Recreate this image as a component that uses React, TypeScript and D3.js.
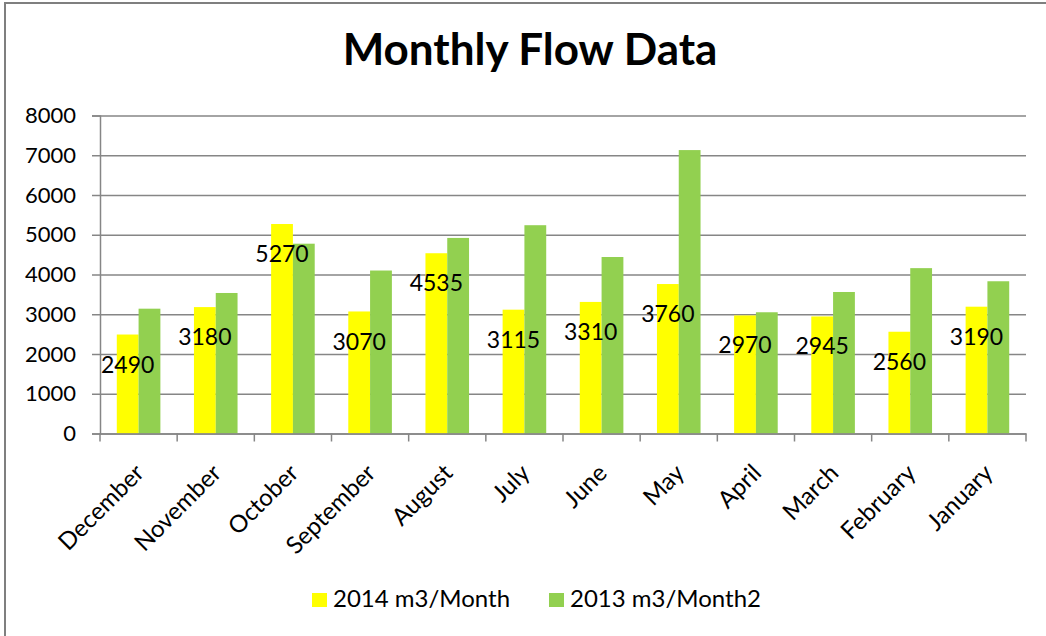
import React, { useEffect, useRef } from "react";
import * as d3 from "d3";

const months = [
  "December", "November", "October", "September", "August", "July",
  "June", "May", "April", "March", "February", "January",
];
const flow2014 = [2490, 3180, 5270, 3070, 4535, 3115, 3310, 3760, 2970, 2945, 2560, 3190];
const flow2013 = [3140, 3535, 4775, 4100, 4920, 5240, 4440, 7130, 3050, 3560, 4160, 3830];
const seriesNames = ["2014 m3/Month", "2013 m3/Month2"];
const yTicks = [0, 1000, 2000, 3000, 4000, 5000, 6000, 7000, 8000];

const W = 1046;
const H = 636;
const FONT = "Lato, 'Open Sans', sans-serif";

const App = () => {
  const ref = useRef<SVGSVGElement | null>(null);

  useEffect(() => {
    const svg = d3.select(ref.current);
    svg.selectAll("*").remove();

    const margin = { top: 115.5, right: 20, bottom: 202.5, left: 100 };
    const x = d3.scaleBand().domain(months).range([margin.left, 1026]);
    const xInner = d3
      .scaleBand()
      .domain(["a", "b"])
      .range([0, x.bandwidth()])
      .paddingOuter(0.77);
    const y = d3.scaleLinear().domain([0, 8000]).range([H - margin.bottom, margin.top]);
    const colors = ["#FFFF00", "#92D050"];

    // outer frame (only top and left visible in the crop)
    svg.append("rect")
      .attr("x", 5).attr("y", 3)
      .attr("width", W + 20).attr("height", H + 20)
      .attr("fill", "white")
      .attr("stroke", "#7f7f7f").attr("stroke-width", 2);

    // title
    svg.append("text")
      .attr("x", 530).attr("y", 65)
      .attr("text-anchor", "middle")
      .attr("font-family", FONT)
      .attr("font-weight", "bold")
      .attr("font-size", 44)
      .text("Monthly Flow Data");

    // gridlines
    svg.append("g")
      .attr("transform", `translate(${margin.left},0)`)
      .call(d3.axisLeft(y).tickValues(yTicks).tickSize(-(1026 - margin.left)).tickFormat(() => ""))
      .call((g) => g.select(".domain").remove())
      .selectAll("line")
      .attr("stroke", "#868686")
      .attr("stroke-width", 1.5);

    // y axis
    const yAxis = svg.append("g")
      .attr("transform", `translate(${margin.left},0)`)
      .call(d3.axisLeft(y).tickValues(yTicks).tickSize(8).tickPadding(16).tickFormat(d3.format("d")));
    yAxis.select(".domain").attr("stroke", "#868686").attr("stroke-width", 1.5);
    yAxis.selectAll("line").attr("stroke", "#868686").attr("stroke-width", 1.5);
    yAxis.selectAll("text")
      .attr("font-family", FONT)
      .attr("font-size", 22)
      .attr("fill", "#000");

    // bars
    const groups = svg.append("g")
      .selectAll("g")
      .data(months)
      .enter()
      .append("g")
      .attr("transform", (d) => `translate(${x(d)},0)`);

    groups.append("rect")
      .attr("x", xInner("a")!)
      .attr("width", xInner.bandwidth())
      .attr("y", (d, i) => y(flow2014[i]))
      .attr("height", (d, i) => y(0) - y(flow2014[i]))
      .attr("fill", colors[0]);

    groups.append("rect")
      .attr("x", xInner("b")!)
      .attr("width", xInner.bandwidth())
      .attr("y", (d, i) => y(flow2013[i]))
      .attr("height", (d, i) => y(0) - y(flow2013[i]))
      .attr("fill", colors[1]);

    // data labels for 2014 series
    groups.append("text")
      .attr("x", xInner("a")! + xInner.bandwidth() / 2)
      .attr("y", (d, i) => y(flow2014[i]) + 30)
      .attr("dy", "0.35em")
      .attr("text-anchor", "middle")
      .attr("font-family", FONT)
      .attr("font-size", 23)
      .text((d, i) => flow2014[i]);

    // x axis
    const xAxis = svg.append("g")
      .attr("transform", `translate(0,${y(0)})`)
      .call(d3.axisBottom(x).tickSize(0).tickFormat(() => ""));
    xAxis.select(".domain").attr("stroke", "#868686").attr("stroke-width", 1.5);
    xAxis.selectAll(".tick").remove();
    xAxis.append("g")
      .selectAll("line")
      .data(months.map((m) => x(m)!).concat([1026]))
      .enter()
      .append("line")
      .attr("x1", (d) => d).attr("x2", (d) => d)
      .attr("y1", 0).attr("y2", 8)
      .attr("stroke", "#868686")
      .attr("stroke-width", 1.5);

    svg.append("g")
      .selectAll("text")
      .data(months)
      .enter()
      .append("text")
      .attr("transform", (d) => `translate(${x(d)! + x.bandwidth() / 2 + 1},${y(0) + 35}) rotate(-45)`)
      .attr("text-anchor", "end")
      .attr("dy", "0.35em")
      .attr("font-family", FONT)
      .attr("font-size", 24)
      .text((d) => d);

    // legend
    const legendX = [312, 549];
    const legend = svg.append("g")
      .selectAll("g")
      .data(seriesNames)
      .enter()
      .append("g")
      .attr("transform", (d, i) => `translate(${legendX[i]},593)`);
    legend.append("rect")
      .attr("width", 15).attr("height", 14)
      .attr("fill", (d, i) => colors[i]);
    legend.append("text")
      .attr("x", 21).attr("y", 14)
      .attr("font-family", FONT)
      .attr("font-size", 24)
      .text((d) => d);
  }, []);

  return (
    <svg
      ref={ref}
      width={W}
      height={H}
      style={{ position: "absolute", left: 0, top: 0, background: "white" }}
    />
  );
};

export default App;
